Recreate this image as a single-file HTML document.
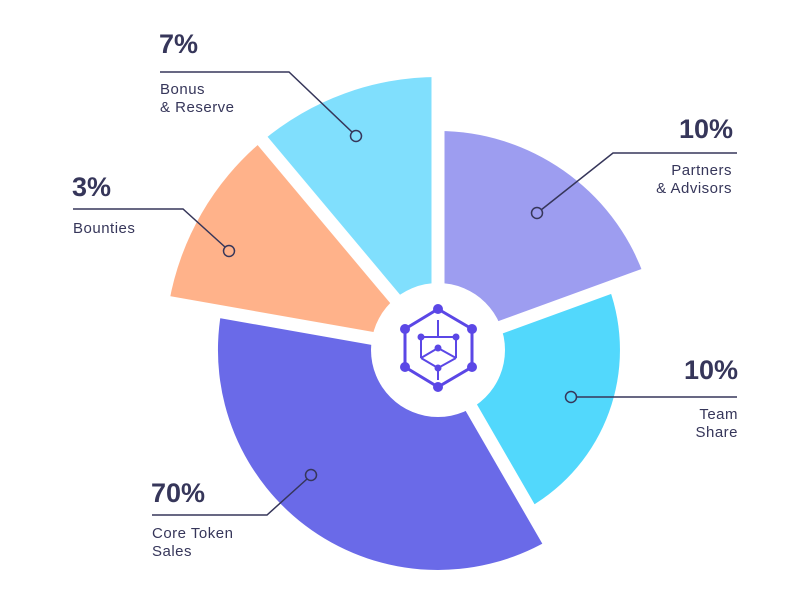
<!DOCTYPE html>
<html><head><meta charset="utf-8"><style>
html,body{margin:0;padding:0;background:#fff;}
svg{display:block;}
text{font-family:"Liberation Sans",sans-serif;fill:#36365a;}
.p{font-size:27px;font-weight:bold;}
.l{font-size:15px;letter-spacing:0.5px;}
</style></head><body>
<svg width="810" height="600" viewBox="0 0 810 600">
<path d="M438,350 L262.5,140.9 A273,273 0 0 1 438,77 Z" fill="#80dffd"/>
<path d="M438,350 L438,131 A219,219 0 0 1 643.8,275.1 Z" fill="#9d9df0"/>
<path d="M438,350 L609,287.8 A182,182 0 0 1 529,507.6 Z" fill="#52d8fc"/>
<path d="M438,350 L548,540.5 A220,220 0 0 1 221.3,311.8 Z" fill="#6a6ae8"/>
<path d="M438,350 L169.1,302.6 A273,273 0 0 1 262.5,140.9 Z" fill="#ffb28a"/>
<g stroke="#fff" stroke-width="13">
<line x1="438" y1="350" x2="438" y2="50"/>
<line x1="438" y1="350" x2="719.9" y2="247.4"/>
<line x1="438" y1="350" x2="588" y2="609.8"/>
<line x1="438" y1="350" x2="142.6" y2="297.9"/>
<line x1="438" y1="350" x2="245.2" y2="120.2"/>
</g>
<circle cx="438" cy="350" r="67" fill="#fff"/>
<g stroke="#5b47e6" stroke-width="3" fill="none">
<polygon points="438,309 472,329 472,367 438,387 405,367 405,329"/>
<line x1="438" y1="320" x2="438" y2="337" stroke-width="2"/>
<line x1="438" y1="337" x2="421" y2="337" stroke-width="2"/>
<line x1="438" y1="337" x2="456" y2="337" stroke-width="2"/>
<line x1="421" y1="337" x2="421" y2="358" stroke-width="2"/>
<line x1="456" y1="337" x2="456" y2="358" stroke-width="2"/>
<line x1="421" y1="358" x2="438" y2="368" stroke-width="2"/>
<line x1="456" y1="358" x2="438" y2="368" stroke-width="2"/>
<line x1="438" y1="348" x2="421" y2="358" stroke-width="2"/>
<line x1="438" y1="348" x2="456" y2="358" stroke-width="2"/>
<line x1="438" y1="368" x2="438" y2="380" stroke-width="2"/>
</g>
<g fill="#5b47e6">
<circle cx="438" cy="309" r="5"/><circle cx="472" cy="329" r="5"/><circle cx="472" cy="367" r="5"/>
<circle cx="438" cy="387" r="5"/><circle cx="405" cy="367" r="5"/><circle cx="405" cy="329" r="5"/>
<circle cx="421" cy="337" r="3.5"/><circle cx="456" cy="337" r="3.5"/><circle cx="438" cy="348" r="3.5"/><circle cx="438" cy="368" r="3.5"/>
</g>
<g stroke="#36365a" stroke-width="1.5" fill="none">
<polyline points="160,72 289,72 352,132"/><circle cx="356" cy="136" r="5.5"/>
<polyline points="73,209 183,209 225,247"/><circle cx="229" cy="251" r="5.5"/>
<polyline points="737,153 613,153 541,210"/><circle cx="537" cy="213" r="5.5"/>
<polyline points="737,397 577,397"/><circle cx="571" cy="397" r="5.5"/>
<polyline points="152,515 267,515 307,479"/><circle cx="311" cy="475" r="5.5"/>
</g>
<text class="p" x="159" y="53">7%</text>
<text class="l" x="160" y="94">Bonus</text>
<text class="l" x="160" y="112">&amp; Reserve</text>
<text class="p" x="72" y="196">3%</text>
<text class="l" x="73" y="233">Bounties</text>
<text class="p" x="733" y="138" text-anchor="end">10%</text>
<text class="l" x="732" y="175" text-anchor="end">Partners</text>
<text class="l" x="732" y="193" text-anchor="end">&amp; Advisors</text>
<text class="p" x="738" y="379" text-anchor="end">10%</text>
<text class="l" x="738" y="419" text-anchor="end">Team</text>
<text class="l" x="738" y="437" text-anchor="end">Share</text>
<text class="p" x="151" y="502">70%</text>
<text class="l" x="152" y="538">Core Token</text>
<text class="l" x="152" y="556">Sales</text>
</svg>
</body></html>
